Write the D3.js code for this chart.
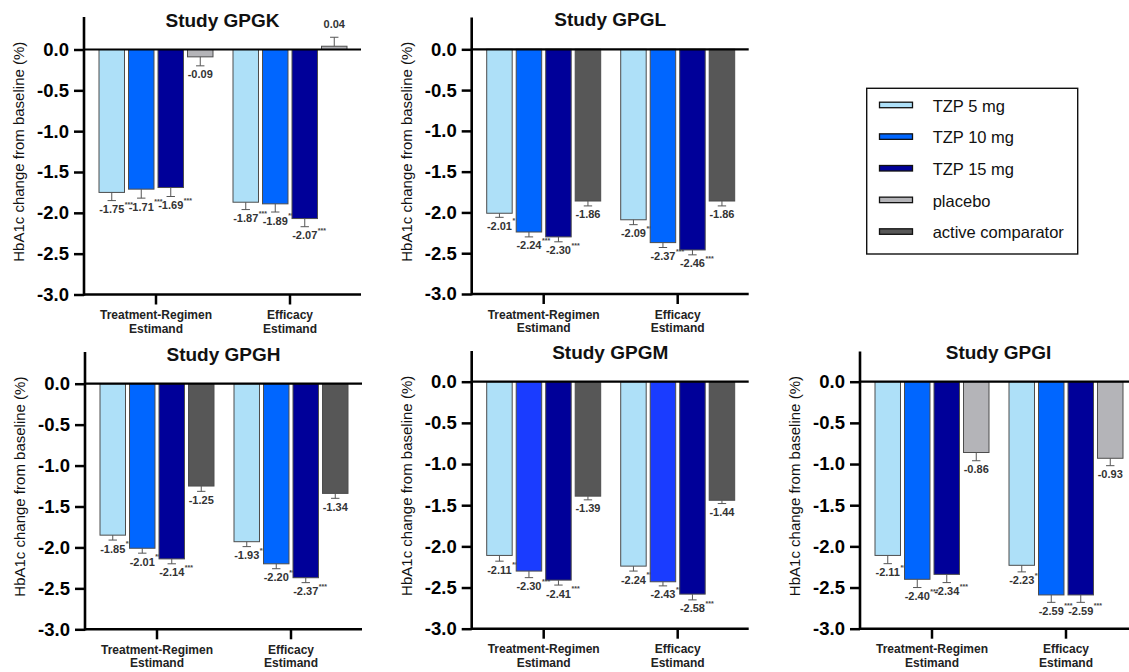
<!DOCTYPE html>
<html><head><meta charset="utf-8">
<script src="https://cdn.jsdelivr.net/npm/d3@7"></script>
<style>
body{margin:0;background:#fff;}
svg{display:block;font-family:"Liberation Sans",Arial,Helvetica,sans-serif;}
</style></head><body>
<svg id="chart" width="1129" height="672"></svg>
<script>
// ---- data ----
const seriesNames = ["TZP 5 mg", "TZP 10 mg", "TZP 15 mg", "placebo", "active comparator"];
const estimands = ["Treatment-Regimen Estimand", "Efficacy Estimand"];
const estimandLines = [["Treatment-Regimen", "Estimand"], ["Efficacy", "Estimand"]];
const yTicks = [0, -0.5, -1.0, -1.5, -2.0, -2.5, -3.0];

// Study GPGK
const gpgkSeries = ["TZP 5 mg", "TZP 10 mg", "TZP 15 mg", "placebo"];
const gpgkTreatment = [-1.75, -1.71, -1.69, -0.09];
const gpgkTreatmentSE = [0.10, 0.11, 0.11, 0.11];
const gpgkTreatmentSig = ["***", "***", "***", ""];
const gpgkEfficacy = [-1.87, -1.89, -2.07, 0.04];
const gpgkEfficacySE = [0.09, 0.10, 0.10, 0.11];
const gpgkEfficacySig = ["***", "***", "***", ""];

// Study GPGL
const gpglSeries = ["TZP 5 mg", "TZP 10 mg", "TZP 15 mg", "active comparator"];
const gpglTreatment = [-2.01, -2.24, -2.30, -1.86];
const gpglTreatmentSE = [0.05, 0.06, 0.06, 0.06];
const gpglTreatmentSig = ["*", "***", "***", ""];
const gpglEfficacy = [-2.09, -2.37, -2.46, -1.86];
const gpglEfficacySE = [0.06, 0.06, 0.06, 0.06];
const gpglEfficacySig = ["***", "***", "***", ""];

// Study GPGH
const gpghSeries = ["TZP 5 mg", "TZP 10 mg", "TZP 15 mg", "active comparator"];
const gpghTreatment = [-1.85, -2.01, -2.14, -1.25];
const gpghTreatmentSE = [0.06, 0.06, 0.06, 0.065];
const gpghTreatmentSig = ["***", "***", "***", ""];
const gpghEfficacy = [-1.93, -2.20, -2.37, -1.34];
const gpghEfficacySE = [0.06, 0.06, 0.06, 0.06];
const gpghEfficacySig = ["***", "***", "***", ""];

// Study GPGM
const gpgmSeries = ["TZP 5 mg", "TZP 10 mg", "TZP 15 mg", "active comparator"];
const gpgmTreatment = [-2.11, -2.30, -2.41, -1.39];
const gpgmTreatmentSE = [0.07, 0.08, 0.06, 0.045];
const gpgmTreatmentSig = ["***", "***", "***", ""];
const gpgmEfficacy = [-2.24, -2.43, -2.58, -1.44];
const gpgmEfficacySE = [0.06, 0.05, 0.07, 0.04];
const gpgmEfficacySig = ["***", "***", "***", ""];

// Study GPGI
const gpgiSeries = ["TZP 5 mg", "TZP 10 mg", "TZP 15 mg", "placebo"];
const gpgiTreatment = [-2.11, -2.40, -2.34, -0.86];
const gpgiTreatmentSE = [0.10, 0.10, 0.10, 0.10];
const gpgiTreatmentSig = ["***", "***", "***", ""];
const gpgiEfficacy = [-2.23, -2.59, -2.59, -0.93];
const gpgiEfficacySE = [0.08, 0.09, 0.09, 0.09];
const gpgiEfficacySig = ["***", "***", "***", ""];

// ---- styling ----
const colour = d3.scaleOrdinal()
  .domain(seriesNames)
  .range(["#aee0f8", "#0066ff", "#000099", "#b4b4b8", "#575757"]);
const colourOverride = { "GPGM": { "TZP 10 mg": "#1a3cff" } };

const studies = [
  { name: "GPGK", series: gpgkSeries, values: [gpgkTreatment, gpgkEfficacy], se: [gpgkTreatmentSE, gpgkEfficacySE], sig: [gpgkTreatmentSig, gpgkEfficacySig],
    ax: 84, y0: 49.5, y3: 294.5, top: 17, titleY: 27 },
  { name: "GPGL", series: gpglSeries, values: [gpglTreatment, gpglEfficacy], se: [gpglTreatmentSE, gpglEfficacySE], sig: [gpglTreatmentSig, gpglEfficacySig],
    ax: 471.7, y0: 49.3, y3: 294, top: 17.5, titleY: 26 },
  { name: "GPGH", series: gpghSeries, values: [gpghTreatment, gpghEfficacy], se: [gpghTreatmentSE, gpghEfficacySE], sig: [gpghTreatmentSig, gpghEfficacySig],
    ax: 85, y0: 383.7, y3: 629.3, top: 352, titleY: 361 },
  { name: "GPGM", series: gpgmSeries, values: [gpgmTreatment, gpgmEfficacy], se: [gpgmTreatmentSE, gpgmEfficacySE], sig: [gpgmTreatmentSig, gpgmEfficacySig],
    ax: 471.7, y0: 381.7, y3: 628.7, top: 351, titleY: 359 },
  { name: "GPGI", series: gpgiSeries, values: [gpgiTreatment, gpgiEfficacy], se: [gpgiTreatmentSE, gpgiEfficacySE], sig: [gpgiTreatmentSig, gpgiEfficacySig],
    ax: 860, y0: 381.7, y3: 628.7, top: 351.5, titleY: 358.5 }
];

const svg = d3.select("#chart");
const fmt = v => v.toFixed(2);

function drawPanel(s) {
  const g = svg.append("g").attr("class", "panel-" + s.name);
  const xEnd = s.ax + 277;

  const y = d3.scaleLinear().domain([-3, 0]).range([s.y3, s.y0]);
  const x0 = d3.scaleBand().domain(estimands).range([s.ax + 5, s.ax + 273]);
  const x1 = d3.scaleBand().domain(s.series).range([-59, 59])
    .paddingInner(0.136).paddingOuter(0.068);

  // bars, error bars and value labels
  estimands.forEach((est, ei) => {
    const cx = x0(est) + x0.bandwidth() / 2;
    const rows = s.series.map((name, i) => ({
      name, v: s.values[ei][i], se: s.se[ei][i], sig: s.sig[ei][i]
    }));
    const grp = g.append("g");
    rows.forEach(r => {
      const left = cx + x1(r.name);
      const mid = left + x1.bandwidth() / 2;
      const fill = (colourOverride[s.name] && colourOverride[s.name][r.name]) || colour(r.name);
      grp.append("rect")
        .attr("x", left).attr("width", x1.bandwidth())
        .attr("y", Math.min(y(0), y(r.v)))
        .attr("height", Math.abs(y(r.v) - y(0)))
        .attr("fill", fill)
        .attr("stroke", "#4d4d4d").attr("stroke-width", 1);

      const tip = r.v < 0 ? r.v - r.se : r.v + r.se;
      grp.append("line")
        .attr("x1", mid).attr("x2", mid)
        .attr("y1", y(r.v)).attr("y2", y(tip))
        .attr("stroke", "#555").attr("stroke-width", 1);
      grp.append("line")
        .attr("x1", mid - 4.2).attr("x2", mid + 4.2)
        .attr("y1", y(tip)).attr("y2", y(tip))
        .attr("stroke", "#555").attr("stroke-width", 1);

      const ly = r.v < 0 ? y(tip) + 12.5 : y(tip) - 9;
      const t = grp.append("text")
        .attr("x", mid).attr("y", ly)
        .attr("text-anchor", "middle")
        .attr("font-size", 11).attr("font-weight", "bold")
        .attr("fill", "#333")
        .text(fmt(r.v));
      if (r.sig) {
        const w = t.node().getComputedTextLength();
        grp.append("text")
          .attr("x", mid + w / 2 + 0.5).attr("y", ly - 6.5)
          .attr("font-size", 7).attr("font-weight", "bold")
          .attr("fill", "#444")
          .text(r.sig);
      }
    });
  });

  // y axis ticks and labels
  const yAxis = d3.axisLeft(y)
    .tickValues(yTicks)
    .tickSize(10)
    .tickPadding(5)
    .tickFormat(d => d.toFixed(1));
  const ya = g.append("g")
    .attr("transform", `translate(${s.ax},0)`)
    .call(yAxis);
  ya.select(".domain").remove();
  ya.selectAll(".tick line").attr("stroke", "#000").attr("stroke-width", 2.5);
  ya.selectAll(".tick text")
    .attr("font-size", 18.5).attr("font-weight", "bold")
    .attr("font-family", "'Liberation Sans', Arial, sans-serif")
    .attr("fill", "#000");

  // axis lines
  g.append("line")
    .attr("x1", s.ax).attr("x2", s.ax)
    .attr("y1", s.top).attr("y2", s.y3 + 1.2)
    .attr("stroke", "#000").attr("stroke-width", 2.6);
  g.append("line")
    .attr("x1", s.ax).attr("x2", xEnd)
    .attr("y1", s.y3).attr("y2", s.y3)
    .attr("stroke", "#000").attr("stroke-width", 2.6);
  g.append("line")
    .attr("x1", s.ax).attr("x2", xEnd)
    .attr("y1", y(0)).attr("y2", y(0))
    .attr("stroke", "#000").attr("stroke-width", 2.2);

  // category ticks and labels
  estimands.forEach((est, ei) => {
    const cx = x0(est) + x0.bandwidth() / 2;
    g.append("line")
      .attr("x1", cx).attr("x2", cx)
      .attr("y1", s.y3).attr("y2", s.y3 + 10)
      .attr("stroke", "#000").attr("stroke-width", 2.5);
    const t = g.append("text")
      .attr("text-anchor", "middle")
      .attr("font-size", 12).attr("font-weight", "bold")
      .attr("fill", "#222");
    estimandLines[ei].forEach((line, li) => {
      t.append("tspan").attr("x", cx).attr("y", s.y3 + 24.5 + li * 13.5).text(line);
    });
  });

  // titles
  g.append("text")
    .attr("x", (s.ax + xEnd) / 2).attr("y", s.titleY)
    .attr("text-anchor", "middle")
    .attr("font-size", 19).attr("font-weight", "bold")
    .attr("fill", "#111")
    .text("Study " + s.name);

  g.append("text")
    .attr("transform", `translate(${s.ax - 60},${(s.top + s.y3) / 2 - 4}) rotate(-90)`)
    .attr("text-anchor", "middle")
    .attr("font-size", 15)
    .attr("fill", "#111")
    .text("HbA1c change from baseline (%)");
}

studies.forEach(drawPanel);

// legend
const legend = svg.append("g").attr("class", "legend");
legend.append("rect")
  .attr("x", 866.7).attr("y", 88.3)
  .attr("width", 211).attr("height", 165.7)
  .attr("fill", "#fff").attr("stroke", "#111").attr("stroke-width", 1.4);
const legendY = d3.scalePoint().domain(seriesNames).range([111.7, 238.3]);
seriesNames.forEach(name => {
  const by = legendY(name);
  legend.append("rect")
    .attr("x", 879.5).attr("y", by - 9.5)
    .attr("width", 33).attr("height", 5.5)
    .attr("fill", colour(name))
    .attr("stroke", "#111").attr("stroke-width", 1.3);
  legend.append("text")
    .attr("x", 932.7).attr("y", by)
    .attr("font-size", 16.5)
    .attr("fill", "#111")
    .text(name);
});
</script>
</body></html>
